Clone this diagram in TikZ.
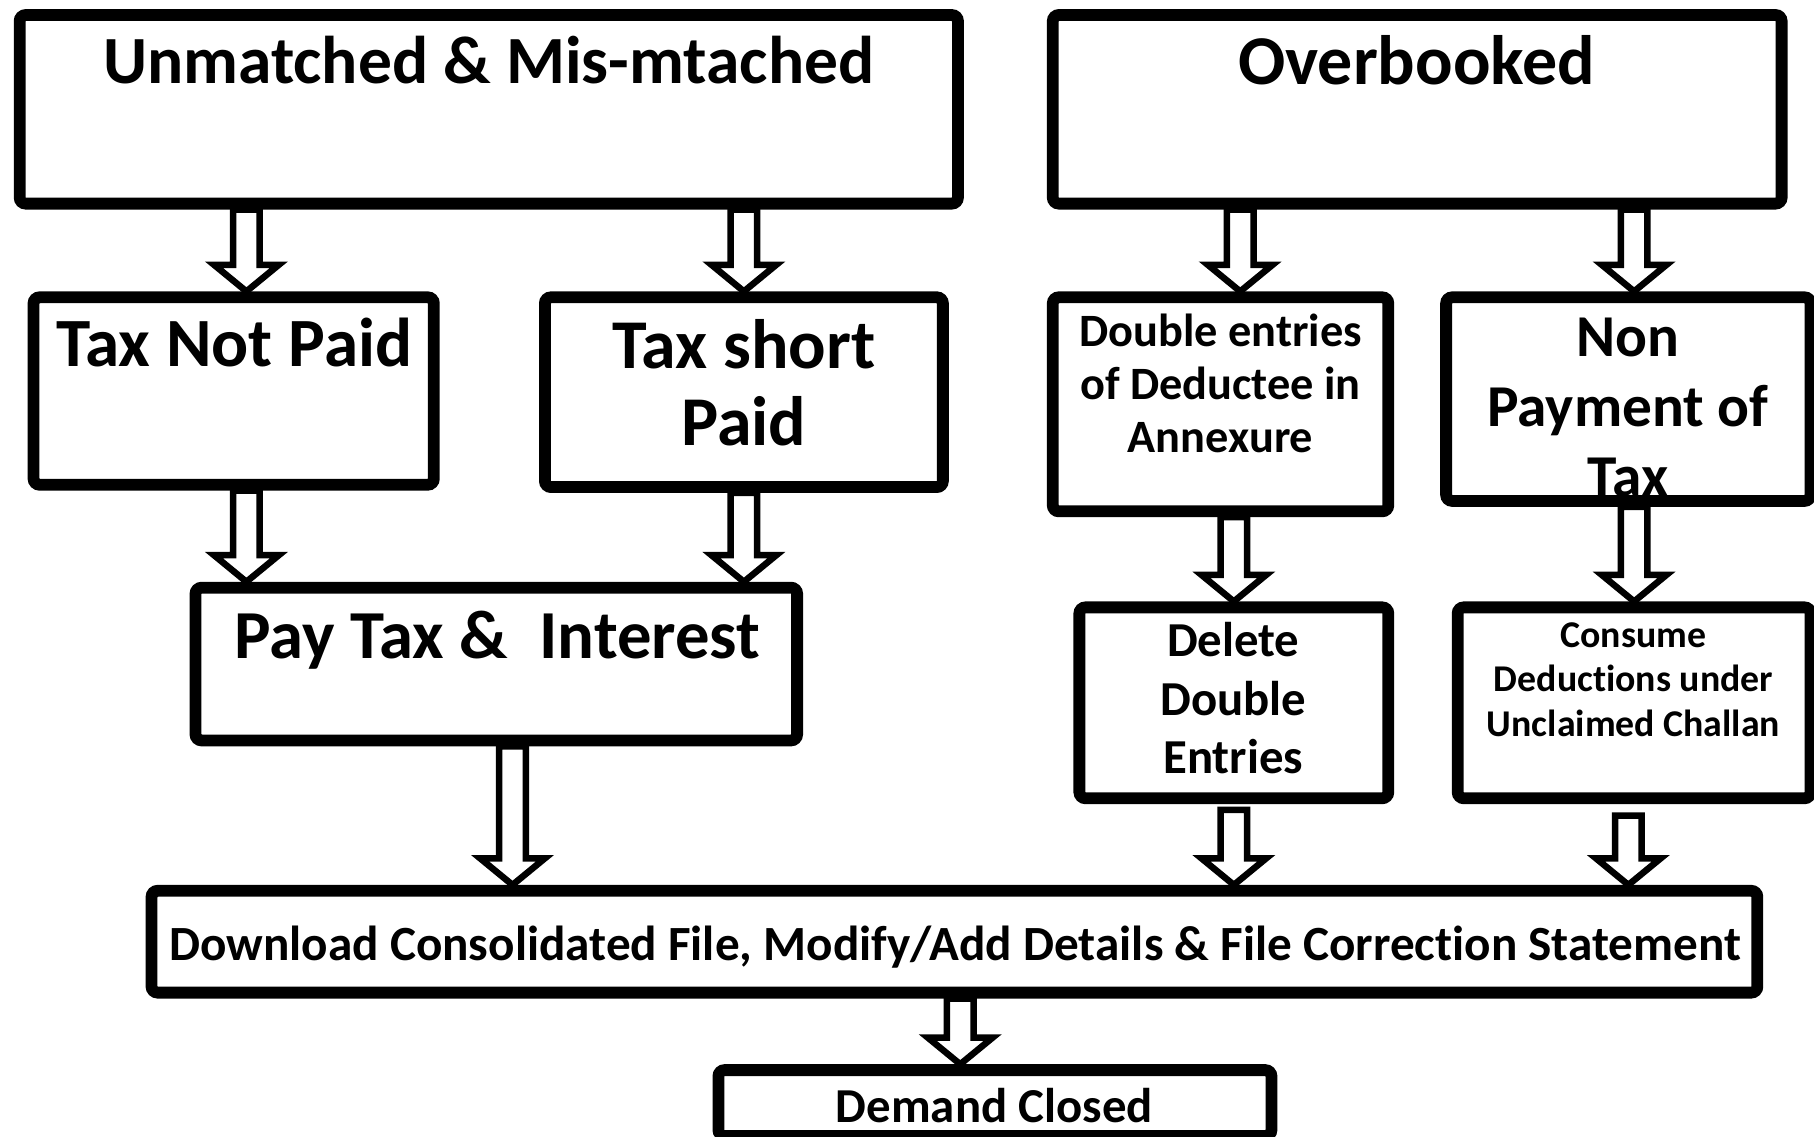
\documentclass[tikz,border=0pt]{standalone}
\usepackage{fontspec}
\setmainfont{Carlito}[RawFeature=-liga]
\usetikzlibrary{calc}

\tikzset{
  box/.style={draw, line width=2.9pt, rounded corners=1.5pt, inner sep=0pt},
  lbl/.style={inner sep=0pt, align=center},
  hollow/.style={draw, fill=white, line width=1.6pt, line join=miter,
    to path={let \p1=(\tikztostart), \p2=(\tikztotarget) in
      (\x2-1.15mm,\y1) -- (\x2-1.15mm,\y2+2.3mm) -- (\x2-2.8mm,\y2+2.3mm) -- (\x2,\y2)
      -- (\x2+2.8mm,\y2+2.3mm) -- (\x2+1.15mm,\y2+2.3mm) -- (\x2+1.15mm,\y1) -- cycle}}
}

\newcommand{\fsz}[2]{\bfseries\fontsize{#1}{#2}\selectfont}

\begin{document}
\begin{tikzpicture}
\useasboundingbox (0,0) rectangle (15.68,-9.82);

% boxes
\node[box, minimum width=8.11cm, minimum height=1.63cm] (unmatched) at (4.225,-0.945) {};
\node[box, minimum width=6.30cm, minimum height=1.63cm] (overbooked) at (12.25,-0.945) {};
\node[box, minimum width=3.46cm, minimum height=1.62cm] (notpaid) at (2.02,-3.38) {};
\node[box, minimum width=3.44cm, minimum height=1.64cm] (shortpaid) at (6.43,-3.39) {};
\node[box, minimum width=2.90cm, minimum height=1.85cm] (doubleent) at (10.55,-3.495) {};
\node[box, minimum width=3.15cm, minimum height=1.76cm] (nonpay) at (14.075,-3.45) {};
\node[box, minimum width=5.20cm, minimum height=1.32cm] (paytax) at (4.29,-5.74) {};
\node[box, minimum width=2.67cm, minimum height=1.65cm] (delete) at (10.665,-6.075) {};
\node[box, minimum width=3.05cm, minimum height=1.65cm] (consume) at (14.125,-6.075) {};
\node[box, minimum width=13.88cm, minimum height=0.88cm] (download) at (8.25,-8.14) {};
\node[box, minimum width=4.78cm, minimum height=0.57cm] (closed) at (8.60,-9.535) {};

% texts
\node[lbl, font=\fsz{16.6}{19}] (unmatched-t) at (4.225,-0.52) {Unmatched \& Mis-mtached};
\node[lbl, font=\fsz{17.2}{19}] (overbooked-t) at (12.245,-0.52) {Overbooked};
\node[lbl, font=\fsz{17}{19}] (notpaid-t) at (2.025,-2.96) {Tax Not Paid};
\node[lbl, font=\fsz{17.2}{19}] (shortpaid-t) at (6.43,-3.305) {Tax short\\Paid};
\node[lbl, font=\fsz{11.4}{13.1}] (doubleent-t) at (10.55,-3.315) {Double entries\\of Deductee in\\Annexure};
\node[lbl, font=\fsz{14.6}{17.2}] (nonpay-t) at (14.07,-3.525) {Non\\Payment of\\Tax};
\node[lbl, font=\fsz{16.9}{19}] (paytax-t) at (4.30,-5.53) {Pay Tax \& \ Interest};
\node[lbl, font=\fsz{12}{14.4}] (delete-t) at (10.66,-6.035) {Delete\\Double\\Entries};
\node[lbl, font=\fsz{9.3}{11}] (consume-t) at (14.12,-5.875) {Consume\\Deductions under\\Unclaimed Challan};
\node[lbl, font=\fsz{12.1}{14}] (download-t) at (8.255,-8.19) {Download Consolidated File, Modify/Add Details \& File Correction Statement};
\node[lbl, font=\fsz{12}{14}] (closed-t) at (8.595,-9.56) {Demand Closed};

% block arrows
\draw[hollow] (unmatched.south) to ([xshift=1.1mm]notpaid.north);
\draw[hollow] (unmatched.south) to (shortpaid.north);
\draw[hollow] (overbooked.south) to ([xshift=1.7mm]doubleent.north);
\draw[hollow] (overbooked.south) to ([xshift=0.5mm]nonpay.north);
\draw[hollow] (notpaid.south) to ([xshift=1.1mm]notpaid.south |- paytax.north);
\draw[hollow] (shortpaid.south) to (shortpaid.south |- paytax.north);
\draw[hollow] (paytax.south) to ([xshift=1.4mm]paytax.south |- download.north);
\draw[hollow] (doubleent.south) to (delete.north);
\draw[hollow] (nonpay.south) to (consume.north);
\draw[hollow] ([yshift=-0.5mm]delete.south) to (delete.south |- download.north);
\draw[hollow] ([yshift=-1mm]consume.south) to ([xshift=-0.5mm]consume.south |- download.north);
\draw[hollow] (download.south) to ([xshift=-3mm]closed.north);

\end{tikzpicture}
\end{document}
